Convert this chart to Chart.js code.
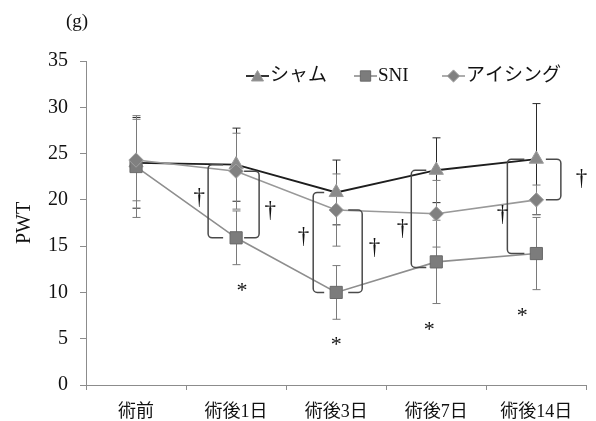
<!DOCTYPE html>
<html>
<head>
<meta charset="utf-8">
<style>
  html, body { margin: 0; padding: 0; background: #fff; }
  canvas { display: block; }
</style>
<script src="https://cdn.jsdelivr.net/npm/chart.js@4/dist/chart.umd.min.js"></script>
</head>
<body>
<canvas id="c" width="596" height="421"></canvas>
<script>
// ---- data ----
const categories = ['術前', '術後1日', '術後3日', '術後7日', '術後14日'];
const seriesNames = ['シャム', 'SNI', 'アイシング'];

const shamMean = [24.0, 23.8, 20.8, 23.2, 24.4];
const shamSD   = [4.9, 3.95, 3.5, 3.5, 6.0];

const sniMean  = [23.6, 15.9, 10.0, 13.3, 14.2];
const sniSD    = [5.5, 2.9, 2.9, 4.5, 3.9];

const iceMean  = [24.3, 23.1, 18.9, 18.5, 20.0];
const iceSD    = [4.4, 4.1, 3.9, 3.6, 1.6];

const yMin = 0, yMax = 35, yStep = 5;
const yTitle = 'PWT';
const unitLabel = '(g)';

// ---- styling ----
const SERIF = "'Liberation Serif', 'Noto Sans CJK JP', serif";
const AXIS_GREY = '#8c8c8c';
const TEXT = '#111111';

const styles = {
  sham: { line: '#1e1e1e', fill: '#8a8a8a', border: '#9a9a9a', err: '#2a2a2a', point: 'triangle', r: 8.2 },
  sni:  { line: '#8e8e8e', fill: '#7c7c7c', border: '#6a6a6a', err: '#7a7a7a', point: 'rect',     r: 8.6 },
  ice:  { line: '#999999', fill: '#808080', border: '#a0a0a0', err: '#7a7a7a', point: 'rectRot',  r: 7.2 }
};

const series = {
  sham: { mean: shamMean, sd: shamSD },
  sni:  { mean: sniMean,  sd: sniSD },
  ice:  { mean: iceMean,  sd: iceSD }
};

function makeDataset(key, label, order) {
  const s = styles[key];
  return {
    label,
    data: series[key].mean,
    borderColor: s.line,
    borderWidth: key === 'sham' ? 1.8 : 1.6,
    pointStyle: s.point,
    pointRadius: s.r,
    pointHoverRadius: s.r,
    pointBackgroundColor: s.fill,
    pointBorderColor: s.border,
    pointBorderWidth: 1,
    tension: 0,
    fill: false,
    order
  };
}

// significance brackets: span between two series at one time point
const brackets = [
  { cat: 1, a: 'sham', b: 'sni', dx: -28, arm: 15 },
  { cat: 1, a: 'ice',  b: 'sni', dx: 23,  arm: -15 },
  { cat: 2, a: 'sham', b: 'sni', dx: -23, arm: 11 },
  { cat: 2, a: 'ice',  b: 'sni', dx: 26,  arm: -14 },
  { cat: 3, a: 'sham', b: 'sni', dx: -25, arm: 15, extra: -0.6 },
  { cat: 4, a: 'sham', b: 'sni', dx: -29, arm: 17 },
  { cat: 4, a: 'sham', b: 'ice', dx: 24.5, arm: -15 }
];

// dagger marks beside the brackets (x offset in px, level in g)
const daggers = [
  { cat: 1, dx: -37, v: 20.3 },
  { cat: 1, dx: 34,  v: 18.9 },
  { cat: 2, dx: -33, v: 16.0 },
  { cat: 2, dx: 38,  v: 14.9 },
  { cat: 3, dx: -34, v: 16.9 },
  { cat: 4, dx: -34, v: 18.4 },
  { cat: 4, dx: 45,  v: 22.3 }
];

// asterisks under the SNI error bars
const asterisks = [
  { cat: 1, dx: 6 },
  { cat: 2, dx: 0 },
  { cat: 3, dx: -7 },
  { cat: 4, dx: -14 }
];

// draw a glyph with its ink box centred on (x, y)
function drawCentered(ctx, text, x, y) {
  const m = ctx.measureText(text);
  const left = x - (m.actualBoundingBoxRight - m.actualBoundingBoxLeft) / 2;
  const base = y + (m.actualBoundingBoxAscent - m.actualBoundingBoxDescent) / 2;
  ctx.textAlign = 'left';
  ctx.textBaseline = 'alphabetic';
  ctx.fillText(text, left, base);
}

const errorBars = {
  id: 'errorBars',
  beforeDatasetsDraw(chart) {
    const { ctx, scales: { x, y } } = chart;
    ['sham', 'sni', 'ice'].forEach(key => {
      const { mean, sd } = series[key];
      ctx.save();
      ctx.strokeStyle = styles[key].err;
      ctx.lineWidth = 1;
      mean.forEach((v, j) => {
        const px = Math.round(x.getPixelForValue(j)) + 0.5;
        const top = y.getPixelForValue(v + sd[j]);
        const bot = y.getPixelForValue(v - sd[j]);
        ctx.beginPath();
        ctx.moveTo(px, top); ctx.lineTo(px, bot);
        ctx.moveTo(px - 4, top); ctx.lineTo(px + 4, top);
        ctx.moveTo(px - 4, bot); ctx.lineTo(px + 4, bot);
        ctx.stroke();
      });
      ctx.restore();
    });
  }
};

const annotations = {
  id: 'annotations',
  afterDraw(chart) {
    const { ctx, scales: { x, y } } = chart;
    ctx.save();

    // brackets
    ctx.strokeStyle = '#4a4a4a';
    ctx.lineWidth = 1.5;
    brackets.forEach(b => {
      const cx = x.getPixelForValue(b.cat);
      const vA = series[b.a].mean[b.cat];
      const vB = series[b.b].mean[b.cat] + (b.extra || 0);
      const yTop = y.getPixelForValue(Math.max(vA, vB));
      const yBot = y.getPixelForValue(Math.min(vA, vB));
      const xv = cx + b.dx;
      const xe = xv + b.arm;
      const rad = 4;
      ctx.beginPath();
      ctx.moveTo(xe, yTop);
      ctx.arcTo(xv, yTop, xv, yTop + rad * 2, rad);
      ctx.arcTo(xv, yBot, xe, yBot, rad);
      ctx.lineTo(xe, yBot);
      ctx.stroke();
    });

    // daggers
    ctx.fillStyle = TEXT;
    ctx.font = `23px ${SERIF}`;
    daggers.forEach(d => {
      drawCentered(ctx, '†', x.getPixelForValue(d.cat) + d.dx, y.getPixelForValue(d.v));
    });

    // asterisks
    ctx.font = `22px ${SERIF}`;
    asterisks.forEach(a => {
      const low = sniMean[a.cat] - sniSD[a.cat];
      drawCentered(ctx, '*', x.getPixelForValue(a.cat) + a.dx, y.getPixelForValue(low) + 22);
    });

    // unit label
    ctx.font = `19px ${SERIF}`;
    ctx.textAlign = 'center';
    ctx.textBaseline = 'middle';
    ctx.fillText(unitLabel, 77, 22);

    // legend: line segment with marker, then name
    const legendY = 76;
    const items = [
      { key: 'sham', x0: 246, label: seriesNames[0] },
      { key: 'sni',  x0: 354, label: seriesNames[1] },
      { key: 'ice',  x0: 442, label: seriesNames[2] }
    ];
    items.forEach(it => {
      const s = styles[it.key];
      const w = 23;
      ctx.strokeStyle = s.line;
      ctx.lineWidth = it.key === 'sham' ? 1.8 : 1.6;
      ctx.beginPath();
      ctx.moveTo(it.x0, legendY);
      ctx.lineTo(it.x0 + w, legendY);
      ctx.stroke();
      ctx.fillStyle = s.fill;
      ctx.strokeStyle = s.border;
      ctx.lineWidth = 1;
      Chart.helpers.drawPoint(ctx, {
        pointStyle: s.point, rotation: 0, radius: s.r * 0.85, borderWidth: 1
      }, it.x0 + w / 2, legendY + (it.key === 'sham' ? 1.5 : 0));
      ctx.fillStyle = TEXT;
      ctx.font = `19px ${SERIF}`;
      ctx.textAlign = 'left';
      ctx.textBaseline = 'middle';
      ctx.fillText(it.label, it.x0 + w + 1, legendY);
    });

    ctx.restore();
  }
};

new Chart(document.getElementById('c'), {
  type: 'line',
  data: {
    labels: categories,
    datasets: [
      makeDataset('sham', seriesNames[0], 3),
      makeDataset('sni', seriesNames[1], 2),
      makeDataset('ice', seriesNames[2], 1)
    ]
  },
  options: {
    responsive: false,
    animation: false,
    devicePixelRatio: 1,
    layout: { padding: { top: 61, right: 2, left: 0, bottom: 0 } },
    plugins: {
      legend: { display: false },
      tooltip: { enabled: false },
      title: { display: false }
    },
    scales: {
      x: {
        type: 'category',
        offset: true,
        grid: {
          display: true,
          offset: true,
          drawOnChartArea: false,
          drawTicks: true,
          tickLength: 5,
          color: AXIS_GREY
        },
        border: { display: true, color: AXIS_GREY, width: 1 },
        ticks: {
          color: TEXT,
          font: { family: SERIF, size: 18 },
          padding: 11,
          maxRotation: 0,
          autoSkip: false
        },
        afterFit(scale) { scale.height = 36; }
      },
      y: {
        min: yMin,
        max: yMax,
        grid: {
          display: true,
          drawOnChartArea: false,
          drawTicks: true,
          tickLength: 6,
          color: AXIS_GREY
        },
        border: { display: true, color: AXIS_GREY, width: 1 },
        ticks: {
          stepSize: yStep,
          color: TEXT,
          font: { family: SERIF, size: 20 },
          padding: 12
        },
        title: {
          display: true,
          text: yTitle,
          color: TEXT,
          font: { family: SERIF, size: 20 },
          padding: { top: 13, bottom: 0 }
        },
        afterFit(scale) { scale.width = 86; }
      }
    }
  },
  plugins: [errorBars, annotations]
});
</script>
</body>
</html>
